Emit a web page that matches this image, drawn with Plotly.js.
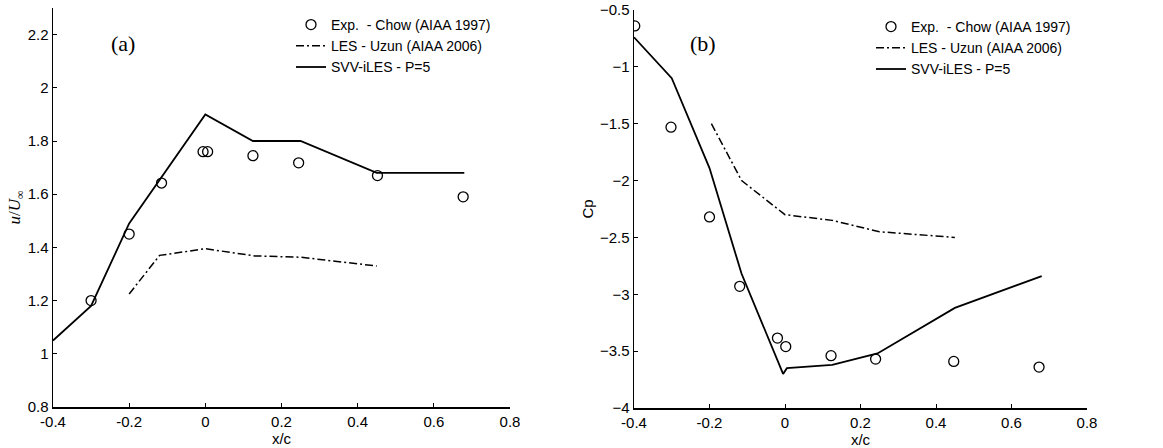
<!DOCTYPE html>
<html>
<head>
<meta charset="utf-8">
<script src="https://cdn.plot.ly/plotly-3.0.1.min.js"></script>
<style>html,body{margin:0;padding:0;background:#fff;}#chart{width:1163px;height:448px;}</style>
</head>
<body>
<div id="chart"></div>
<script>
// Panel (a): u/U_inf
var expA_x = [-0.3, -0.2, -0.115, -0.006, 0.006, 0.125, 0.245, 0.452, 0.677];
var expA_y = [1.2, 1.45, 1.642, 1.76, 1.76, 1.745, 1.718, 1.67, 1.59];
var lesA_x = [-0.2, -0.12, 0, 0.13, 0.25, 0.45];
var lesA_y = [1.225, 1.37, 1.395, 1.368, 1.363, 1.33];
var svvA_x = [-0.4, -0.3, -0.2, -0.11, 0, 0.125, 0.25, 0.45, 0.68];
var svvA_y = [1.05, 1.18, 1.49, 1.675, 1.9, 1.8, 1.8, 1.68, 1.68];

// Panel (b): Cp
var expB_x = [-0.398, -0.302, -0.2, -0.12, -0.02, 0.002, 0.122, 0.24, 0.447, 0.673];
var expB_y = [-0.64, -1.53, -2.32, -2.93, -3.385, -3.46, -3.54, -3.57, -3.59, -3.64];
var lesB_x = [-0.195, -0.115, 0, 0.125, 0.25, 0.45];
var lesB_y = [-1.5, -2.0, -2.3, -2.35, -2.45, -2.5];
var svvB_x = [-0.4, -0.3, -0.2, -0.115, -0.005, 0.005, 0.125, 0.245, 0.45, 0.68];
var svvB_y = [-0.74, -1.1, -1.89, -2.82, -3.70, -3.65, -3.62, -3.52, -3.12, -2.84];

var names = ['Exp.  - Chow (AIAA 1997)', 'LES - Uzun (AIAA 2006)', 'SVV-iLES - P=5'];
var xTicks = [-0.4, -0.2, 0, 0.2, 0.4, 0.6, 0.8];
var xTickText = ['-0.4', '-0.2', '0', '0.2', '0.4', '0.6', '0.8'];
var yTicksA = [0.8, 1, 1.2, 1.4, 1.6, 1.8, 2, 2.2];
var yTicksB = [-4, -3.5, -3, -2.5, -2, -1.5, -1, -0.5];

var sans = 'Liberation Sans, Arial, sans-serif';
var serif = 'Liberation Serif, Times New Roman, serif';

function expTrace(x, y, xa, ya, lg) {
  return {x: x, y: y, xaxis: xa, yaxis: ya, legend: lg, name: names[0], mode: 'markers', type: 'scatter',
    marker: {symbol: 'circle-open', size: 10, color: '#000', line: {width: 1.3, color: '#000'}}};
}
function lesTrace(x, y, xa, ya, lg) {
  return {x: x, y: y, xaxis: xa, yaxis: ya, legend: lg, name: names[1], mode: 'lines', type: 'scatter',
    line: {color: '#000', width: 1.5, dash: '8px,3px,2px,3px'}};
}
function svvTrace(x, y, xa, ya, lg) {
  return {x: x, y: y, xaxis: xa, yaxis: ya, legend: lg, name: names[2], mode: 'lines', type: 'scatter',
    line: {color: '#000', width: 1.8}};
}

var data = [
  expTrace(expA_x, expA_y, 'x', 'y', 'legend'),
  lesTrace(lesA_x, lesA_y, 'x', 'y', 'legend'),
  svvTrace(svvA_x, svvA_y, 'x', 'y', 'legend'),
  expTrace(expB_x, expB_y, 'x2', 'y2', 'legend2'),
  lesTrace(lesB_x, lesB_y, 'x2', 'y2', 'legend2'),
  svvTrace(svvB_x, svvB_y, 'x2', 'y2', 'legend2')
];

function xAxis(domain, anchor) {
  return {domain: domain, anchor: anchor, range: [-0.4, 0.8], tickvals: xTicks, ticktext: xTickText,
    ticks: 'inside', ticklen: 4, tickwidth: 1, tickcolor: '#000', showline: true, linecolor: '#000', linewidth: 1.5,
    showgrid: false, zeroline: false, tickfont: {family: sans, size: 15, color: '#000'},
    title: {text: 'x/c', font: {family: sans, size: 15, color: '#000'}, standoff: 0}};
}
function yAxis(domain, anchor, range, ticks, title) {
  return {domain: domain, anchor: anchor, range: range, tickvals: ticks,
    ticks: 'inside', ticklen: 4, tickwidth: 1, tickcolor: '#000', showline: true, linecolor: '#000', linewidth: 1.5,
    showgrid: false, zeroline: false, tickfont: {family: sans, size: 15, color: '#000'},
    title: title};
}

var layout = {
  width: 1163, height: 448,
  margin: {l: 0, r: 0, t: 0, b: 0},
  paper_bgcolor: '#fff', plot_bgcolor: '#fff',
  showlegend: true,
  xaxis: xAxis([53/1163, 510/1163], 'y'),
  yaxis: yAxis([41/448, 440/448], 'x', [0.8, 2.3], yTicksA,
    {text: '<i>u</i>/<i>U</i><sub>∞</sub>', font: {family: serif, size: 17, color: '#000'}, standoff: 2}),
  xaxis2: xAxis([634/1163, 1087/1163], 'y2'),
  yaxis2: yAxis([40/448, 438/448], 'x2', [-4, -0.5], yTicksB,
    {text: 'Cp', font: {family: sans, size: 15, color: '#000'}, standoff: 2}),
  legend: {x: 291/1163, y: 1 - 9/448, xanchor: 'left', yanchor: 'top', bgcolor: 'rgba(0,0,0,0)',
    font: {family: sans, size: 14, color: '#000'}, tracegroupgap: 0, itemwidth: 30},
  legend2: {x: 871/1163, y: 1 - 11/448, xanchor: 'left', yanchor: 'top', bgcolor: 'rgba(0,0,0,0)',
    font: {family: sans, size: 14, color: '#000'}, tracegroupgap: 0, itemwidth: 30},
  annotations: [
    {text: '(a)', xref: 'paper', yref: 'paper', x: 123/1163, y: 1 - 43/448, xanchor: 'center', yanchor: 'middle',
      showarrow: false, font: {family: serif, size: 22, color: '#000'}},
    {text: '(b)', xref: 'paper', yref: 'paper', x: 703/1163, y: 1 - 43/448, xanchor: 'center', yanchor: 'middle',
      showarrow: false, font: {family: serif, size: 22, color: '#000'}}
  ]
};

Plotly.newPlot('chart', data, layout, {displayModeBar: false, staticPlot: true});
</script>
</body>
</html>
